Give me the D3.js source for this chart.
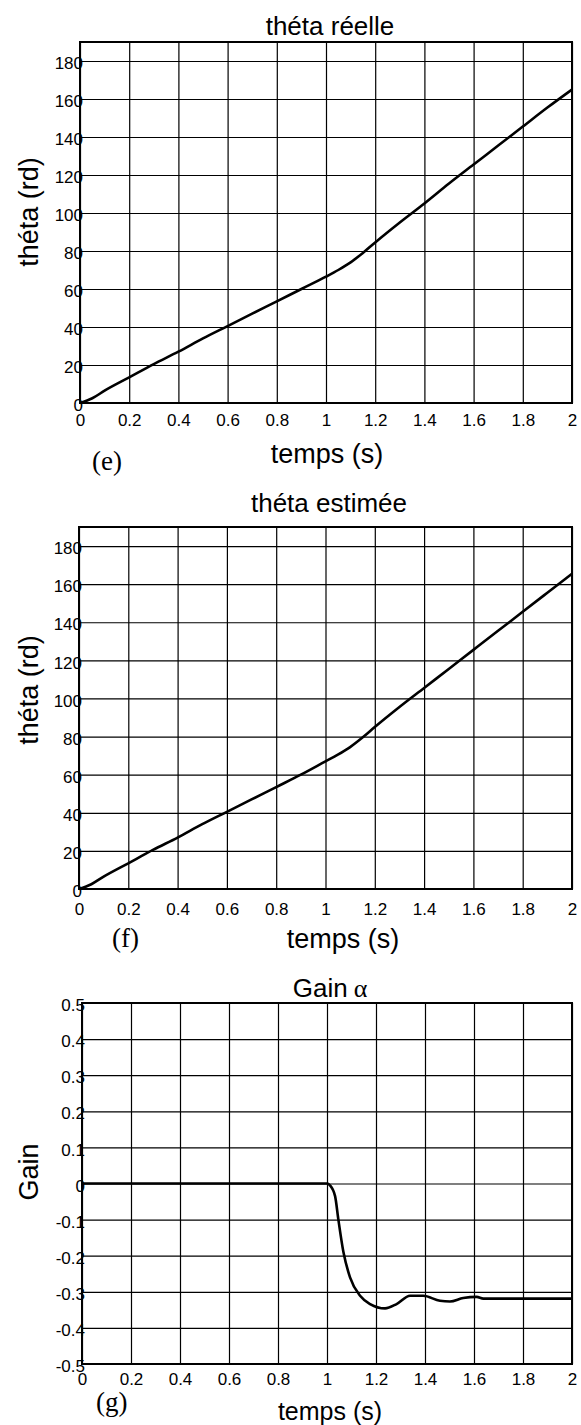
<!DOCTYPE html>
<html>
<head>
<meta charset="utf-8">
<script src="https://cdn.jsdelivr.net/npm/d3@7"></script>
<style>
  body { margin: 0; background: #fff; }
  svg { display: block; font-family: "Liberation Sans", Arial, sans-serif; }
</style>
</head>
<body>
<svg id="fig" width="581" height="1425"></svg>
<script>
// tick values
var timeTicks = [0, 0.2, 0.4, 0.6, 0.8, 1, 1.2, 1.4, 1.6, 1.8, 2];
var thetaTicks = [0, 20, 40, 60, 80, 100, 120, 140, 160, 180];
var gainTicks = [-0.5, -0.4, -0.3, -0.2, -0.1, 0, 0.1, 0.2, 0.3, 0.4, 0.5];

// (e) theta reelle
var reelleT = [0, 0.05, 0.1, 0.2, 0.3, 0.4, 0.5, 0.6, 0.7, 0.8, 0.9, 1.0, 1.05, 1.1, 1.15, 1.2, 1.3, 1.4, 1.5, 1.6, 1.7, 1.8, 1.9, 2.0];
var reelleV = [0, 2.5, 6.5, 13.5, 20.5, 27, 34, 40.5, 47, 53.5, 60, 66.5, 70, 74, 79, 84.5, 95, 105, 115.5, 125.5, 135.5, 145.5, 155.5, 165];

// (f) theta estimee
var estimeeT = [0, 0.05, 0.1, 0.2, 0.3, 0.4, 0.5, 0.6, 0.7, 0.8, 0.9, 1.0, 1.05, 1.1, 1.15, 1.2, 1.3, 1.4, 1.5, 1.6, 1.7, 1.8, 1.9, 2.0];
var estimeeV = [0, 2.5, 6.5, 13.5, 20.5, 27, 34, 40.5, 47, 53.5, 60, 67, 70.5, 74.5, 79.5, 85, 95.5, 105.5, 115.5, 125.5, 135.5, 145.5, 155.5, 165.5];

// (g) gain alpha
var gainT = [0, 1.0, 1.012, 1.033, 1.046, 1.067, 1.094, 1.135, 1.176, 1.237, 1.284, 1.339, 1.393, 1.461, 1.502, 1.556, 1.611, 1.638, 2.0];
var gainV = [0, 0, -0.005, -0.035, -0.098, -0.19, -0.26, -0.311, -0.334, -0.346, -0.334, -0.311, -0.311, -0.325, -0.327, -0.317, -0.314, -0.319, -0.319];

function fmt(v) { return String(+v.toFixed(2)); }

var svg = d3.select("#fig");
var SANS = "Liberation Sans, Arial, sans-serif";

function drawPanel(p) {
    var x = d3.scaleLinear().domain([0, 2]).range([p.l, p.r]);
    var y = d3.scaleLinear().domain(p.yDomain).range([p.b, p.t]);
    var g = svg.append("g");

    // vertical grid + x tick labels
    var xa = g.append("g").attr("transform", "translate(0," + p.b + ")")
        .call(d3.axisBottom(x).tickValues(timeTicks).tickFormat(fmt)
            .tickSize(-(p.b - p.t)).tickPadding(0))
        .attr("font-family", SANS).attr("font-size", 17);
    xa.select(".domain").remove();
    xa.selectAll("line").attr("stroke", "#000").attr("stroke-width", 1.2);
    xa.selectAll("text").attr("y", p.xTickDy).attr("dy", null).attr("fill", "#000");

    // horizontal grid + y tick labels
    var ya = g.append("g").attr("transform", "translate(" + p.l + ",0)")
        .call(d3.axisLeft(y).tickValues(p.yTicks).tickFormat(fmt)
            .tickSize(-(p.r - p.l)).tickPadding(-3))
        .attr("font-family", SANS).attr("font-size", 17);
    ya.select(".domain").remove();
    ya.selectAll("line").attr("stroke", "#000").attr("stroke-width", 1.2);
    ya.selectAll("text").attr("dy", "0.45em").attr("fill", "#000");

    // frame
    g.append("rect").attr("x", p.l).attr("y", p.t)
        .attr("width", p.r - p.l).attr("height", p.b - p.t)
        .attr("fill", "none").attr("stroke", "#000").attr("stroke-width", 2);

    // curve
    var pts = p.ts.map(function(t, i) { return [t, p.vs[i]]; });
    g.append("path").datum(pts)
        .attr("fill", "none").attr("stroke", "#000").attr("stroke-width", 2.6)
        .attr("stroke-linejoin", "round")
        .attr("d", d3.line().x(function(d) { return x(d[0]); })
            .y(function(d) { return y(d[1]); }).curve(d3.curveMonotoneX));

    // y tick labels drawn over the frame
    ya.raise();

    // texts
    var title = g.append("text").attr("x", p.titleX).attr("y", p.titleY)
        .attr("text-anchor", "middle").attr("font-size", 26).text(p.title);
    if (p.titleSym) title.append("tspan").attr("font-family", "Liberation Serif, serif")
        .attr("dx", 6).text(p.titleSym);

    g.append("text").attr("transform", "translate(38," + p.yLabelY + ") rotate(-90)")
        .attr("text-anchor", "middle").attr("font-size", 27).text(p.yLabel);

    g.append("text").attr("x", p.xLabelX).attr("y", p.xLabelY)
        .attr("text-anchor", "middle").attr("font-size", p.xLabelSize).text("temps (s)");

    g.append("text").attr("x", p.tagX).attr("y", p.tagY)
        .attr("font-family", "Liberation Serif, 'Times New Roman', serif")
        .attr("font-size", 27).text(p.tag);
}

drawPanel({ l: 80, r: 572, t: 42, b: 403, yDomain: [0, 190], yTicks: thetaTicks,
    ts: reelleT, vs: reelleV, title: "théta réelle", titleX: 330, titleY: 35,
    yLabel: "théta (rd)", yLabelY: 212, xTickDy: 23, xLabelX: 327, xLabelY: 463, xLabelSize: 27,
    tag: "(e)", tagX: 92, tagY: 470 });

drawPanel({ l: 79, r: 572, t: 527, b: 889, yDomain: [0, 190], yTicks: thetaTicks,
    ts: estimeeT, vs: estimeeV, title: "théta estimée", titleX: 329, titleY: 512,
    yLabel: "théta (rd)", yLabelY: 690, xTickDy: 26, xLabelX: 343, xLabelY: 948, xLabelSize: 27,
    tag: "(f)", tagX: 112, tagY: 947 });

drawPanel({ l: 82, r: 572, t: 1003, b: 1364, yDomain: [-0.5, 0.5], yTicks: gainTicks,
    ts: gainT, vs: gainV, title: "Gain", titleSym: "α", titleX: 330, titleY: 997,
    yLabel: "Gain", yLabelY: 1172, xTickDy: 21, xLabelX: 330, xLabelY: 1420, xLabelSize: 25,
    tag: "(g)", tagX: 96, tagY: 1411 });
</script>
</body>
</html>
